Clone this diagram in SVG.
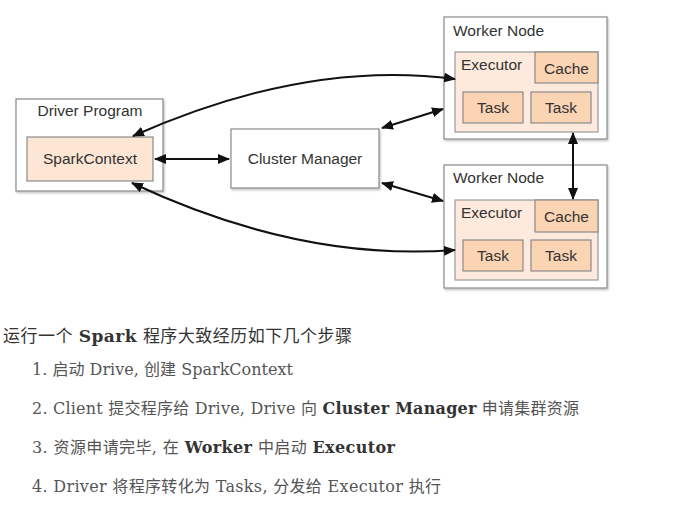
<svg xmlns="http://www.w3.org/2000/svg" width="684" height="511" viewBox="0 0 684 511">
<style>
.box{fill:#fff;stroke:#8a8a8a;stroke-width:1.2}
.sc{fill:#fde6d4;stroke:#8a8a8a;stroke-width:1.2}
.ex{fill:#fdeadc;stroke:#9a9a9a;stroke-width:1.2}
.dk{fill:#fbd4b4;stroke:#8a8a8a;stroke-width:1.2}
.lbl{font-family:"Liberation Sans",Arial,sans-serif;font-size:15.5px;fill:#333}
.mid{text-anchor:middle}
.con{fill:none;stroke:#111;stroke-width:2;marker-start:url(#ah);marker-end:url(#ah)}
.txt{font-family:"DejaVu Serif","Noto Sans CJK SC",serif;fill:#555}
.b{font-weight:bold;fill:#333}
</style>
<defs>
<filter id="sh" x="-10%" y="-10%" width="130%" height="130%">
<feDropShadow dx="1" dy="1.5" stdDeviation="1.2" flood-color="#000" flood-opacity="0.25"/>
</filter>
<marker id="ah" markerUnits="userSpaceOnUse" markerWidth="12" markerHeight="10" viewBox="0 0 12 10" refX="11" refY="5" orient="auto-start-reverse">
<path d="M0,0 L12,5 L0,10 z" fill="#111"/>
</marker>
</defs>
<rect width="684" height="511" fill="#fff"/>

<g id="driver">
<rect class="box" x="16" y="99" width="147" height="92" filter="url(#sh)"/>
<text class="lbl mid" x="90" y="116">Driver Program</text>
<rect class="sc" x="27" y="137" width="126" height="44"/>
<text class="lbl mid" x="90" y="164">SparkContext</text>
</g>

<g id="cluster">
<rect class="box" x="231" y="129" width="148" height="59" filter="url(#sh)"/>
<text class="lbl mid" x="305" y="164">Cluster Manager</text>
</g>

<g id="worker1">
<rect class="box" x="444" y="17" width="163" height="122" filter="url(#sh)"/>
<text class="lbl" x="453" y="36">Worker Node</text>
<rect class="ex" x="455" y="52" width="143" height="80"/>
<text class="lbl" x="461" y="70">Executor</text>
<rect class="dk" x="535" y="52" width="63" height="31"/>
<text class="lbl mid" x="566.5" y="74">Cache</text>
<rect class="dk" x="463" y="92" width="60" height="31"/>
<text class="lbl mid" x="493" y="113">Task</text>
<rect class="dk" x="531" y="92" width="60" height="31"/>
<text class="lbl mid" x="561" y="113">Task</text>
</g>

<g id="worker2">
<rect class="box" x="444" y="165" width="163" height="123" filter="url(#sh)"/>
<text class="lbl" x="453" y="183">Worker Node</text>
<rect class="ex" x="455" y="200" width="143" height="80"/>
<text class="lbl" x="461" y="218">Executor</text>
<rect class="dk" x="535" y="200" width="63" height="32"/>
<text class="lbl mid" x="566.5" y="222">Cache</text>
<rect class="dk" x="463" y="240" width="60" height="31"/>
<text class="lbl mid" x="493" y="261">Task</text>
<rect class="dk" x="531" y="240" width="60" height="31"/>
<text class="lbl mid" x="561" y="261">Task</text>
</g>

<g id="connectors">
<path class="con" d="M155,159 L229,159"/>
<path class="con" d="M133,136 Q306,59 455,79"/>
<path class="con" d="M132,183 Q300,262 455,250"/>
<path class="con" d="M382,128 L443,109"/>
<path class="con" d="M382,183 L443,201"/>
<path class="con" d="M573,133 L573,199"/>
</g>

<g id="notes">
<text class="txt" x="3" y="342" font-size="17" fill="#333" style="fill:#333" textLength="349" lengthAdjust="spacing">运行一个 <tspan class="b">Spark</tspan> 程序大致经历如下几个步骤</text>
<text class="txt" x="32" y="375" font-size="16" textLength="261" lengthAdjust="spacing">1. 启动 Drive, 创建 SparkContext</text>
<text class="txt" x="32" y="414" font-size="16" textLength="547" lengthAdjust="spacing">2. Client 提交程序给 Drive, Drive 向 <tspan class="b">Cluster Manager</tspan> 申请集群资源</text>
<text class="txt" x="32" y="453" font-size="16" textLength="363" lengthAdjust="spacing">3. 资源申请完毕, 在 <tspan class="b">Worker</tspan> 中启动 <tspan class="b">Executor</tspan></text>
<text class="txt" x="32" y="492" font-size="16" textLength="409" lengthAdjust="spacing">4. Driver 将程序转化为 Tasks, 分发给 Executor 执行</text>
</g>
</svg>
